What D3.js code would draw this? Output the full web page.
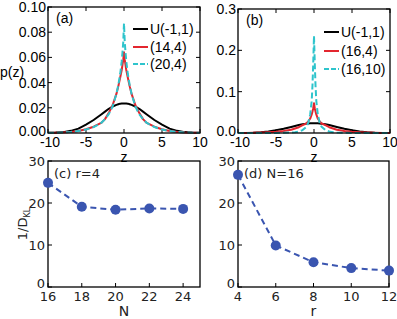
<!DOCTYPE html>
<html><head><meta charset="utf-8">
<script src="https://cdn.jsdelivr.net/npm/d3@7"></script>
<style>body{margin:0;background:#fff}</style>
</head><body>
<svg id="c" width="397" height="319"></svg>
<script>
// ---- data ----
const zGrid = [-10,-9,-8,-7,-6,-5,-4,-3,-2.5,-2,-1.5,-1,-0.75,-0.5,-0.3,-0.2,-0.1,0,0.1,0.2,0.3,0.5,0.75,1,1.5,2,2.5,3,4,5,6,7,8,9,10];
const pUniform = [0.0001,0.0003,0.0007,0.0017,0.0035,0.0066,0.0103,0.0147,0.0170,0.0192,0.0210,0.0223,0.0228,0.0233,0.0234,0.0234,0.0235,0.0235,0.0235,0.0234,0.0234,0.0233,0.0228,0.0223,0.0210,0.0192,0.0170,0.0147,0.0103,0.0066,0.0035,0.0017,0.0007,0.0003,0.0001];
const pA_14_4 = [0.0001,0.0002,0.0004,0.0008,0.0016,0.003,0.005,0.008,0.011,0.016,0.022,0.031,0.037,0.044,0.050,0.054,0.058,0.064,0.058,0.054,0.050,0.044,0.037,0.031,0.022,0.016,0.011,0.008,0.005,0.003,0.0016,0.0008,0.0004,0.0002,0.0001];
const pA_20_4 = [0.0001,0.0002,0.0004,0.0008,0.0015,0.0028,0.0047,0.008,0.011,0.015,0.021,0.031,0.038,0.047,0.057,0.064,0.072,0.087,0.072,0.064,0.057,0.047,0.038,0.031,0.021,0.015,0.011,0.008,0.0047,0.0028,0.0015,0.0008,0.0004,0.0002,0.0001];
const pB_16_4 = [0.0001,0.0002,0.0005,0.001,0.0018,0.003,0.005,0.008,0.011,0.014,0.019,0.023,0.028,0.035,0.045,0.052,0.060,0.072,0.060,0.052,0.045,0.035,0.028,0.023,0.019,0.014,0.011,0.008,0.005,0.003,0.0018,0.001,0.0005,0.0002,0.0001];
const pB_16_10 = [0,0,0.0001,0.0001,0.0001,0.0002,0.0005,0.0012,0.002,0.0035,0.007,0.015,0.025,0.045,0.078,0.115,0.17,0.235,0.17,0.115,0.078,0.045,0.025,0.015,0.007,0.0035,0.002,0.0012,0.0005,0.0002,0.0001,0.0001,0.0001,0,0];
const legendA = ["U(-1,1)","(14,4)","(20,4)"];
const legendB = ["U(-1,1)","(16,4)","(16,10)"];
const xTicksZ = [-10,-5,0,5,10];
const yTicksA = [0,0.02,0.04,0.06,0.08,0.10];
const yTicksB = [0,0.1,0.2,0.3];
const Nvals = [16,18,20,22,24];
const invDklN = [24.8,19.1,18.4,18.7,18.6];
const rVals = [4,6,8,10,12];
const invDklR = [26.7,9.9,5.9,4.5,3.9];
const yTicksCD = [0,10,20,30];

// ---- styles ----
const BLACK="#000", RED="#e3262f", CYAN="#2ec4cc", BLUE="#3a55b0";
const svg = d3.select("#c");
const helv = "'Liberation Sans', Arial, sans-serif";
const dv = "'DejaVu Sans', sans-serif";

function frame(g, x0,x1,y0,y1){
  g.append("rect").attr("x",x0).attr("y",y0).attr("width",x1-x0).attr("height",y1-y0)
   .attr("fill","none").attr("stroke","#000").attr("stroke-width",1.3);
}

function distPanel(box, yDomain, yTicks, yFmt, series, legend, label, legY){
  const x = d3.scaleLinear().domain([-10,10]).range([box.l, box.r]);
  const y = d3.scaleLinear().domain(yDomain).range([box.b, box.t]);
  const g = svg.append("g");
  const tl = 4;
  xTicksZ.forEach(t=>{
    g.append("line").attr("x1",x(t)).attr("x2",x(t)).attr("y1",box.b).attr("y2",box.b-tl).attr("stroke","#000").attr("stroke-width",1);
    g.append("line").attr("x1",x(t)).attr("x2",x(t)).attr("y1",box.t).attr("y2",box.t+tl).attr("stroke","#000").attr("stroke-width",1);
    g.append("text").attr("x",x(t)+(t===-10?2:0)).attr("y",box.b+14).attr("text-anchor","middle")
     .attr("font-family",helv).attr("font-size",14).text(t);
  });
  yTicks.forEach(t=>{
    g.append("line").attr("x1",box.l).attr("x2",box.l+tl).attr("y1",y(t)).attr("y2",y(t)).attr("stroke","#000");
    g.append("line").attr("x1",box.r).attr("x2",box.r-tl).attr("y1",y(t)).attr("y2",y(t)).attr("stroke","#000");
    g.append("text").attr("x",box.l-2).attr("y",y(t)+(t===0?3:5)).attr("text-anchor","end")
     .attr("font-family",helv).attr("font-size",14).text(yFmt(t));
  });
  const line = d3.line().x((d,i)=>x(zGrid[i])).y(d=>y(d));
  series.forEach(s=>{
    g.append("path").datum(s.v).attr("d",line).attr("fill","none")
     .attr("stroke",s.c).attr("stroke-width",2).attr("stroke-dasharray",s.dash||null)
     .attr("stroke-linejoin","round");
  });
  frame(g, box.l, box.r, box.t, box.b);
  g.append("text").attr("x",box.l+8).attr("y",box.t+16).attr("font-family",helv).attr("font-size",14).text(label);
  series.forEach((s,i)=>{
    const ly = legY[i];
    g.append("line").attr("x1",legend.x0).attr("x2",legend.x0+15).attr("y1",ly).attr("y2",ly)
     .attr("stroke",s.c).attr("stroke-width",2).attr("stroke-dasharray",s.dash?"5,2":null);
    g.append("text").attr("x",legend.x0+17).attr("y",ly+5).attr("font-family",helv).attr("font-size",14).text(legend.names[i]);
  });
  g.append("text").attr("x",(box.l+box.r)/2).attr("y",box.b+29).attr("text-anchor","middle")
   .attr("font-family",helv).attr("font-size",14).text("z");
}

distPanel({l:48,r:200,t:7,b:133},[0,0.10],yTicksA,d3.format(".2f"),
  [{v:pUniform,c:BLACK},{v:pA_14_4,c:RED},{v:pA_20_4,c:CYAN,dash:"6,3"}],
  {x0:133,names:legendA},"(a)",[29,47,64]);
distPanel({l:238,r:390,t:9,b:133},[0,0.3],yTicksB,d3.format(".1f"),
  [{v:pUniform,c:BLACK},{v:pB_16_4,c:RED},{v:pB_16_10,c:CYAN,dash:"6,3"}],
  {x0:324,names:legendB},"(b)",[32,51,69]);

svg.append("text").attr("x",0).attr("y",77).attr("font-family",helv).attr("font-size",14).text("p(z)");

function klPanel(box, xDomain, xs, ys, label, xlab){
  const x = d3.scaleLinear().domain(xDomain).range([box.l, box.r]);
  const y = d3.scaleLinear().domain([0,30]).range([box.b, box.t]);
  const g = svg.append("g");
  const tl = 4;
  xs.forEach(t=>{
    g.append("line").attr("x1",x(t)).attr("x2",x(t)).attr("y1",box.b).attr("y2",box.b-tl).attr("stroke","#000");
    g.append("text").attr("x",x(t)).attr("y",box.b+14).attr("text-anchor","middle")
     .attr("font-family",dv).attr("font-size",13).attr("fill","#222").text(t);
  });
  yTicksCD.forEach(t=>{
    g.append("line").attr("x1",box.l).attr("x2",box.l+tl).attr("y1",y(t)).attr("y2",y(t)).attr("stroke","#000");
    g.append("text").attr("x",box.l-3).attr("y",y(t)+(t===0?1:5)).attr("text-anchor","end")
     .attr("font-family",dv).attr("font-size",13).attr("fill","#222").text(t);
  });
  const line = d3.line().x((d,i)=>x(xs[i])).y(d=>y(d));
  g.append("path").datum(ys).attr("d",line).attr("fill","none").attr("stroke",BLUE)
   .attr("stroke-width",2).attr("stroke-dasharray","6,4");
  frame(g, box.l, box.r, box.t, box.b);
  g.selectAll("circle.m").data(ys).enter().append("circle")
   .attr("cx",(d,i)=>x(xs[i])).attr("cy",d=>y(d)).attr("r",5).attr("fill",BLUE);
  g.append("text").attr("x",box.l+6).attr("y",box.t+17).attr("font-family",dv).attr("font-size",13).attr("fill","#222").text(label);
  g.append("text").attr("x",(box.l+box.r)/2).attr("y",box.b+29).attr("text-anchor","middle")
   .attr("font-family",dv).attr("font-size",14).attr("fill","#222").text(xlab);
}
klPanel({l:48,r:200,t:161,b:287},[16,25],Nvals,invDklN,"(c) r=4","N");
klPanel({l:238,r:389,t:161,b:287},[4,12],rVals,invDklR,"(d) N=16","r");

const yl = svg.append("text").attr("transform","translate(27,224) rotate(-90)").attr("text-anchor","middle")
  .attr("font-family",dv).attr("font-size",13).attr("fill","#222");
yl.append("tspan").text("1/D");
yl.append("tspan").attr("font-size",8).attr("dy",3).text("KL");
</script>
</body></html>
